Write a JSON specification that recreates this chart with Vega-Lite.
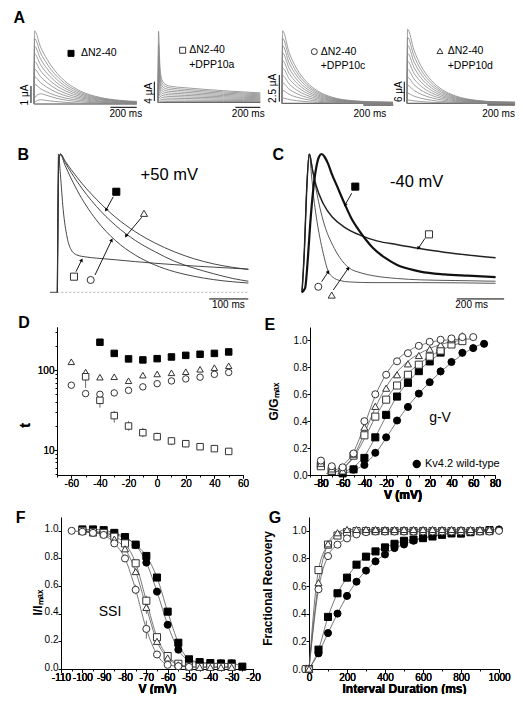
{
"$schema": "https://vega.github.io/schema/vega-lite/v6.json",
"padding": 0,
"background": "white",
"autosize": {"type": "pad"},
"config": {
  "font": "Liberation Sans",
  "view": {"stroke": null},
  "axis": {"grid": false, "domainColor": "#000", "tickColor": "#000", "labelColor": "#000", "titleColor": "#000", "labelFont": "Liberation Sans", "labelFontSize": 10, "tickSize": 3, "labelPadding": 0, "titleFont": "Liberation Sans", "titleFontSize": 12, "titleFontWeight": "bold", "labelFlush": false, "labelOverlap": false, "domainWidth": 1, "tickWidth": 1},
  "text": {"font": "Liberation Sans", "color": "#000"}
},
"datasets": {
"tr": [
{"p":1,"k":0,"x":0,"y":0},{"p":1,"k":0,"x":780,"y":0},
{"p":1,"k":1,"x":0,"y":0},{"p":1,"k":1,"x":4,"y":4.3},{"p":1,"k":1,"x":50,"y":3.35},{"p":1,"k":1,"x":100,"y":2.62},{"p":1,"k":1,"x":175,"y":1.81},{"p":1,"k":1,"x":250,"y":1.25},{"p":1,"k":1,"x":350,"y":0.77},{"p":1,"k":1,"x":500,"y":0.39},{"p":1,"k":1,"x":650,"y":0.22},{"p":1,"k":1,"x":780,"y":0.15},
{"p":1,"k":2,"x":0,"y":0},{"p":1,"k":2,"x":4,"y":3.85},{"p":1,"k":2,"x":50,"y":3.0},{"p":1,"k":2,"x":100,"y":2.35},{"p":1,"k":2,"x":175,"y":1.62},{"p":1,"k":2,"x":250,"y":1.12},{"p":1,"k":2,"x":350,"y":0.69},{"p":1,"k":2,"x":500,"y":0.35},{"p":1,"k":2,"x":650,"y":0.19},{"p":1,"k":2,"x":780,"y":0.13},
{"p":1,"k":3,"x":0,"y":0},{"p":1,"k":3,"x":4,"y":3.4},{"p":1,"k":3,"x":50,"y":2.65},{"p":1,"k":3,"x":100,"y":2.07},{"p":1,"k":3,"x":175,"y":1.43},{"p":1,"k":3,"x":250,"y":0.99},{"p":1,"k":3,"x":350,"y":0.61},{"p":1,"k":3,"x":500,"y":0.31},{"p":1,"k":3,"x":650,"y":0.17},{"p":1,"k":3,"x":780,"y":0.12},
{"p":1,"k":4,"x":0,"y":0},{"p":1,"k":4,"x":4,"y":2.95},{"p":1,"k":4,"x":50,"y":2.3},{"p":1,"k":4,"x":100,"y":1.8},{"p":1,"k":4,"x":175,"y":1.24},{"p":1,"k":4,"x":250,"y":0.86},{"p":1,"k":4,"x":350,"y":0.53},{"p":1,"k":4,"x":500,"y":0.27},{"p":1,"k":4,"x":650,"y":0.15},{"p":1,"k":4,"x":780,"y":0.1},
{"p":1,"k":5,"x":0,"y":0},{"p":1,"k":5,"x":4,"y":2.5},{"p":1,"k":5,"x":50,"y":1.95},{"p":1,"k":5,"x":100,"y":1.53},{"p":1,"k":5,"x":175,"y":1.05},{"p":1,"k":5,"x":250,"y":0.73},{"p":1,"k":5,"x":350,"y":0.45},{"p":1,"k":5,"x":500,"y":0.23},{"p":1,"k":5,"x":650,"y":0.13},{"p":1,"k":5,"x":780,"y":0.09},
{"p":1,"k":6,"x":0,"y":0},{"p":1,"k":6,"x":4,"y":2.05},{"p":1,"k":6,"x":50,"y":1.6},{"p":1,"k":6,"x":100,"y":1.25},{"p":1,"k":6,"x":175,"y":0.86},{"p":1,"k":6,"x":250,"y":0.59},{"p":1,"k":6,"x":350,"y":0.37},{"p":1,"k":6,"x":500,"y":0.18},{"p":1,"k":6,"x":650,"y":0.1},{"p":1,"k":6,"x":780,"y":0.07},
{"p":1,"k":7,"x":0,"y":0},{"p":1,"k":7,"x":4,"y":1.6},{"p":1,"k":7,"x":50,"y":1.25},{"p":1,"k":7,"x":100,"y":0.98},{"p":1,"k":7,"x":175,"y":0.67},{"p":1,"k":7,"x":250,"y":0.46},{"p":1,"k":7,"x":350,"y":0.29},{"p":1,"k":7,"x":500,"y":0.14},{"p":1,"k":7,"x":650,"y":0.08},{"p":1,"k":7,"x":780,"y":0.06},
{"p":1,"k":8,"x":0,"y":0},{"p":1,"k":8,"x":4,"y":1.15},{"p":1,"k":8,"x":50,"y":0.9},{"p":1,"k":8,"x":100,"y":0.7},{"p":1,"k":8,"x":175,"y":0.48},{"p":1,"k":8,"x":250,"y":0.33},{"p":1,"k":8,"x":350,"y":0.21},{"p":1,"k":8,"x":500,"y":0.1},{"p":1,"k":8,"x":650,"y":0.06},{"p":1,"k":8,"x":780,"y":0.04},
{"p":1,"k":9,"x":0,"y":0},{"p":1,"k":9,"x":4,"y":0.35},{"p":1,"k":9,"x":50,"y":0.6},{"p":1,"k":9,"x":100,"y":0.5},{"p":1,"k":9,"x":175,"y":0.33},{"p":1,"k":9,"x":250,"y":0.22},{"p":1,"k":9,"x":350,"y":0.13},{"p":1,"k":9,"x":500,"y":0.06},{"p":1,"k":9,"x":650,"y":0.035},{"p":1,"k":9,"x":780,"y":0.025},
{"p":1,"k":10,"x":0,"y":0},{"p":1,"k":10,"x":4,"y":0.1},{"p":1,"k":10,"x":50,"y":0.25},{"p":1,"k":10,"x":100,"y":0.2},{"p":1,"k":10,"x":175,"y":0.14},{"p":1,"k":10,"x":250,"y":0.09},{"p":1,"k":10,"x":350,"y":0.05},{"p":1,"k":10,"x":500,"y":0.03},{"p":1,"k":10,"x":650,"y":0.02},{"p":1,"k":10,"x":780,"y":0.01},
{"p":2,"k":0,"x":0,"y":0},{"p":2,"k":0,"x":780,"y":0},
{"p":2,"k":1,"x":0,"y":0},{"p":2,"k":1,"x":4,"y":14.7},{"p":2,"k":1,"x":15,"y":7.29},{"p":2,"k":1,"x":30,"y":4.67},{"p":2,"k":1,"x":60,"y":3.64},{"p":2,"k":1,"x":100,"y":3.3},{"p":2,"k":1,"x":200,"y":3.03},{"p":2,"k":1,"x":350,"y":2.69},{"p":2,"k":1,"x":500,"y":2.4},{"p":2,"k":1,"x":650,"y":2.15},{"p":2,"k":1,"x":780,"y":1.95},
{"p":2,"k":2,"x":0,"y":0},{"p":2,"k":2,"x":4,"y":12},{"p":2,"k":2,"x":15,"y":6.12},{"p":2,"k":2,"x":30,"y":4.04},{"p":2,"k":2,"x":60,"y":3.22},{"p":2,"k":2,"x":100,"y":2.95},{"p":2,"k":2,"x":200,"y":2.71},{"p":2,"k":2,"x":350,"y":2.41},{"p":2,"k":2,"x":500,"y":2.15},{"p":2,"k":2,"x":650,"y":1.93},{"p":2,"k":2,"x":780,"y":1.75},
{"p":2,"k":3,"x":0,"y":0},{"p":2,"k":3,"x":4,"y":9.5},{"p":2,"k":3,"x":15,"y":5.02},{"p":2,"k":3,"x":30,"y":3.43},{"p":2,"k":3,"x":60,"y":2.81},{"p":2,"k":3,"x":100,"y":2.6},{"p":2,"k":3,"x":200,"y":2.39},{"p":2,"k":3,"x":350,"y":2.13},{"p":2,"k":3,"x":500,"y":1.9},{"p":2,"k":3,"x":650,"y":1.71},{"p":2,"k":3,"x":780,"y":1.55},
{"p":2,"k":4,"x":0,"y":0},{"p":2,"k":4,"x":4,"y":7.5},{"p":2,"k":4,"x":15,"y":4.09},{"p":2,"k":4,"x":30,"y":2.88},{"p":2,"k":4,"x":60,"y":2.41},{"p":2,"k":4,"x":100,"y":2.25},{"p":2,"k":4,"x":200,"y":2.07},{"p":2,"k":4,"x":350,"y":1.85},{"p":2,"k":4,"x":500,"y":1.65},{"p":2,"k":4,"x":650,"y":1.49},{"p":2,"k":4,"x":780,"y":1.35},
{"p":2,"k":5,"x":0,"y":0},{"p":2,"k":5,"x":4,"y":6},{"p":2,"k":5,"x":15,"y":3.34},{"p":2,"k":5,"x":30,"y":2.39},{"p":2,"k":5,"x":60,"y":2.02},{"p":2,"k":5,"x":100,"y":1.9},{"p":2,"k":5,"x":200,"y":1.75},{"p":2,"k":5,"x":350,"y":1.56},{"p":2,"k":5,"x":500,"y":1.4},{"p":2,"k":5,"x":650,"y":1.26},{"p":2,"k":5,"x":780,"y":1.15},
{"p":2,"k":6,"x":0,"y":0},{"p":2,"k":6,"x":4,"y":4.5},{"p":2,"k":6,"x":15,"y":2.58},{"p":2,"k":6,"x":30,"y":1.9},{"p":2,"k":6,"x":60,"y":1.64},{"p":2,"k":6,"x":100,"y":1.55},{"p":2,"k":6,"x":200,"y":1.43},{"p":2,"k":6,"x":350,"y":1.28},{"p":2,"k":6,"x":500,"y":1.15},{"p":2,"k":6,"x":650,"y":1.04},{"p":2,"k":6,"x":780,"y":0.95},
{"p":2,"k":7,"x":0,"y":0},{"p":2,"k":7,"x":4,"y":3.3},{"p":2,"k":7,"x":15,"y":1.94},{"p":2,"k":7,"x":30,"y":1.45},{"p":2,"k":7,"x":60,"y":1.26},{"p":2,"k":7,"x":100,"y":1.2},{"p":2,"k":7,"x":200,"y":1.11},{"p":2,"k":7,"x":350,"y":1.0},{"p":2,"k":7,"x":500,"y":0.9},{"p":2,"k":7,"x":650,"y":0.82},{"p":2,"k":7,"x":780,"y":0.75},
{"p":2,"k":8,"x":0,"y":0},{"p":2,"k":8,"x":4,"y":2.2},{"p":2,"k":8,"x":15,"y":1.32},{"p":2,"k":8,"x":30,"y":1.01},{"p":2,"k":8,"x":60,"y":0.89},{"p":2,"k":8,"x":100,"y":0.85},{"p":2,"k":8,"x":200,"y":0.79},{"p":2,"k":8,"x":350,"y":0.72},{"p":2,"k":8,"x":500,"y":0.65},{"p":2,"k":8,"x":650,"y":0.6},{"p":2,"k":8,"x":780,"y":0.55},
{"p":2,"k":9,"x":0,"y":0},{"p":2,"k":9,"x":4,"y":1.3},{"p":2,"k":9,"x":15,"y":0.78},{"p":2,"k":9,"x":30,"y":0.6},{"p":2,"k":9,"x":60,"y":0.52},{"p":2,"k":9,"x":100,"y":0.5},{"p":2,"k":9,"x":200,"y":0.47},{"p":2,"k":9,"x":350,"y":0.43},{"p":2,"k":9,"x":500,"y":0.4},{"p":2,"k":9,"x":650,"y":0.37},{"p":2,"k":9,"x":780,"y":0.35},
{"p":2,"k":10,"x":0,"y":0},{"p":2,"k":10,"x":4,"y":0.6},{"p":2,"k":10,"x":15,"y":0.34},{"p":2,"k":10,"x":30,"y":0.25},{"p":2,"k":10,"x":60,"y":0.21},{"p":2,"k":10,"x":100,"y":0.2},{"p":2,"k":10,"x":200,"y":0.19},{"p":2,"k":10,"x":350,"y":0.18},{"p":2,"k":10,"x":500,"y":0.17},{"p":2,"k":10,"x":650,"y":0.16},{"p":2,"k":10,"x":780,"y":0.15},
{"p":3,"k":0,"x":0,"y":0},{"p":3,"k":0,"x":780,"y":0},
{"p":3,"k":1,"x":0,"y":0},{"p":3,"k":1,"x":4,"y":6.8},{"p":3,"k":1,"x":50,"y":4.76},{"p":3,"k":1,"x":100,"y":3.33},{"p":3,"k":1,"x":175,"y":1.97},{"p":3,"k":1,"x":250,"y":1.16},{"p":3,"k":1,"x":350,"y":0.58},{"p":3,"k":1,"x":500,"y":0.24},{"p":3,"k":1,"x":650,"y":0.14},{"p":3,"k":1,"x":780,"y":0.1},
{"p":3,"k":2,"x":0,"y":0},{"p":3,"k":2,"x":4,"y":6.1},{"p":3,"k":2,"x":50,"y":4.27},{"p":3,"k":2,"x":100,"y":2.99},{"p":3,"k":2,"x":175,"y":1.77},{"p":3,"k":2,"x":250,"y":1.04},{"p":3,"k":2,"x":350,"y":0.52},{"p":3,"k":2,"x":500,"y":0.21},{"p":3,"k":2,"x":650,"y":0.12},{"p":3,"k":2,"x":780,"y":0.09},
{"p":3,"k":3,"x":0,"y":0},{"p":3,"k":3,"x":4,"y":5.4},{"p":3,"k":3,"x":50,"y":3.78},{"p":3,"k":3,"x":100,"y":2.65},{"p":3,"k":3,"x":175,"y":1.57},{"p":3,"k":3,"x":250,"y":0.92},{"p":3,"k":3,"x":350,"y":0.46},{"p":3,"k":3,"x":500,"y":0.19},{"p":3,"k":3,"x":650,"y":0.11},{"p":3,"k":3,"x":780,"y":0.08},
{"p":3,"k":4,"x":0,"y":0},{"p":3,"k":4,"x":4,"y":4.7},{"p":3,"k":4,"x":50,"y":3.29},{"p":3,"k":4,"x":100,"y":2.3},{"p":3,"k":4,"x":175,"y":1.36},{"p":3,"k":4,"x":250,"y":0.8},{"p":3,"k":4,"x":350,"y":0.4},{"p":3,"k":4,"x":500,"y":0.16},{"p":3,"k":4,"x":650,"y":0.09},{"p":3,"k":4,"x":780,"y":0.07},
{"p":3,"k":5,"x":0,"y":0},{"p":3,"k":5,"x":4,"y":4.0},{"p":3,"k":5,"x":50,"y":2.8},{"p":3,"k":5,"x":100,"y":1.96},{"p":3,"k":5,"x":175,"y":1.16},{"p":3,"k":5,"x":250,"y":0.68},{"p":3,"k":5,"x":350,"y":0.34},{"p":3,"k":5,"x":500,"y":0.14},{"p":3,"k":5,"x":650,"y":0.08},{"p":3,"k":5,"x":780,"y":0.06},
{"p":3,"k":6,"x":0,"y":0},{"p":3,"k":6,"x":4,"y":3.3},{"p":3,"k":6,"x":50,"y":2.31},{"p":3,"k":6,"x":100,"y":1.62},{"p":3,"k":6,"x":175,"y":0.96},{"p":3,"k":6,"x":250,"y":0.56},{"p":3,"k":6,"x":350,"y":0.28},{"p":3,"k":6,"x":500,"y":0.12},{"p":3,"k":6,"x":650,"y":0.07},{"p":3,"k":6,"x":780,"y":0.05},
{"p":3,"k":7,"x":0,"y":0},{"p":3,"k":7,"x":4,"y":2.6},{"p":3,"k":7,"x":50,"y":1.82},{"p":3,"k":7,"x":100,"y":1.27},{"p":3,"k":7,"x":175,"y":0.75},{"p":3,"k":7,"x":250,"y":0.44},{"p":3,"k":7,"x":350,"y":0.22},{"p":3,"k":7,"x":500,"y":0.09},{"p":3,"k":7,"x":650,"y":0.05},{"p":3,"k":7,"x":780,"y":0.04},
{"p":3,"k":8,"x":0,"y":0},{"p":3,"k":8,"x":4,"y":1.9},{"p":3,"k":8,"x":50,"y":1.33},{"p":3,"k":8,"x":100,"y":0.93},{"p":3,"k":8,"x":175,"y":0.55},{"p":3,"k":8,"x":250,"y":0.32},{"p":3,"k":8,"x":350,"y":0.16},{"p":3,"k":8,"x":500,"y":0.07},{"p":3,"k":8,"x":650,"y":0.04},{"p":3,"k":8,"x":780,"y":0.03},
{"p":3,"k":9,"x":0,"y":0},{"p":3,"k":9,"x":4,"y":1.2},{"p":3,"k":9,"x":50,"y":0.84},{"p":3,"k":9,"x":100,"y":0.59},{"p":3,"k":9,"x":175,"y":0.35},{"p":3,"k":9,"x":250,"y":0.2},{"p":3,"k":9,"x":350,"y":0.1},{"p":3,"k":9,"x":500,"y":0.04},{"p":3,"k":9,"x":650,"y":0.02},{"p":3,"k":9,"x":780,"y":0.02},
{"p":3,"k":10,"x":0,"y":0},{"p":3,"k":10,"x":4,"y":0.5},{"p":3,"k":10,"x":50,"y":0.35},{"p":3,"k":10,"x":100,"y":0.25},{"p":3,"k":10,"x":175,"y":0.15},{"p":3,"k":10,"x":250,"y":0.09},{"p":3,"k":10,"x":350,"y":0.04},{"p":3,"k":10,"x":500,"y":0.02},{"p":3,"k":10,"x":650,"y":0.01},{"p":3,"k":10,"x":780,"y":0.01},
{"p":4,"k":0,"x":0,"y":0},{"p":4,"k":0,"x":780,"y":0},
{"p":4,"k":1,"x":0,"y":0},{"p":4,"k":1,"x":4,"y":22.2},{"p":4,"k":1,"x":50,"y":15.98},{"p":4,"k":1,"x":100,"y":11.32},{"p":4,"k":1,"x":175,"y":6.88},{"p":4,"k":1,"x":250,"y":4.22},{"p":4,"k":1,"x":350,"y":2.22},{"p":4,"k":1,"x":500,"y":0.89},{"p":4,"k":1,"x":650,"y":0.44},{"p":4,"k":1,"x":780,"y":0.33},
{"p":4,"k":2,"x":0,"y":0},{"p":4,"k":2,"x":4,"y":19.8},{"p":4,"k":2,"x":50,"y":14.26},{"p":4,"k":2,"x":100,"y":10.1},{"p":4,"k":2,"x":175,"y":6.14},{"p":4,"k":2,"x":250,"y":3.76},{"p":4,"k":2,"x":350,"y":1.98},{"p":4,"k":2,"x":500,"y":0.79},{"p":4,"k":2,"x":650,"y":0.4},{"p":4,"k":2,"x":780,"y":0.3},
{"p":4,"k":3,"x":0,"y":0},{"p":4,"k":3,"x":4,"y":17.4},{"p":4,"k":3,"x":50,"y":12.53},{"p":4,"k":3,"x":100,"y":8.87},{"p":4,"k":3,"x":175,"y":5.39},{"p":4,"k":3,"x":250,"y":3.31},{"p":4,"k":3,"x":350,"y":1.74},{"p":4,"k":3,"x":500,"y":0.7},{"p":4,"k":3,"x":650,"y":0.35},{"p":4,"k":3,"x":780,"y":0.26},
{"p":4,"k":4,"x":0,"y":0},{"p":4,"k":4,"x":4,"y":15},{"p":4,"k":4,"x":50,"y":10.8},{"p":4,"k":4,"x":100,"y":7.65},{"p":4,"k":4,"x":175,"y":4.65},{"p":4,"k":4,"x":250,"y":2.85},{"p":4,"k":4,"x":350,"y":1.5},{"p":4,"k":4,"x":500,"y":0.6},{"p":4,"k":4,"x":650,"y":0.3},{"p":4,"k":4,"x":780,"y":0.23},
{"p":4,"k":5,"x":0,"y":0},{"p":4,"k":5,"x":4,"y":12.6},{"p":4,"k":5,"x":50,"y":9.07},{"p":4,"k":5,"x":100,"y":6.43},{"p":4,"k":5,"x":175,"y":3.91},{"p":4,"k":5,"x":250,"y":2.39},{"p":4,"k":5,"x":350,"y":1.26},{"p":4,"k":5,"x":500,"y":0.5},{"p":4,"k":5,"x":650,"y":0.25},{"p":4,"k":5,"x":780,"y":0.19},
{"p":4,"k":6,"x":0,"y":0},{"p":4,"k":6,"x":4,"y":10.2},{"p":4,"k":6,"x":50,"y":7.34},{"p":4,"k":6,"x":100,"y":5.2},{"p":4,"k":6,"x":175,"y":3.16},{"p":4,"k":6,"x":250,"y":1.94},{"p":4,"k":6,"x":350,"y":1.02},{"p":4,"k":6,"x":500,"y":0.41},{"p":4,"k":6,"x":650,"y":0.2},{"p":4,"k":6,"x":780,"y":0.15},
{"p":4,"k":7,"x":0,"y":0},{"p":4,"k":7,"x":4,"y":7.8},{"p":4,"k":7,"x":50,"y":5.62},{"p":4,"k":7,"x":100,"y":3.98},{"p":4,"k":7,"x":175,"y":2.42},{"p":4,"k":7,"x":250,"y":1.48},{"p":4,"k":7,"x":350,"y":0.78},{"p":4,"k":7,"x":500,"y":0.31},{"p":4,"k":7,"x":650,"y":0.16},{"p":4,"k":7,"x":780,"y":0.12},
{"p":4,"k":8,"x":0,"y":0},{"p":4,"k":8,"x":4,"y":5.4},{"p":4,"k":8,"x":50,"y":3.89},{"p":4,"k":8,"x":100,"y":2.75},{"p":4,"k":8,"x":175,"y":1.67},{"p":4,"k":8,"x":250,"y":1.03},{"p":4,"k":8,"x":350,"y":0.54},{"p":4,"k":8,"x":500,"y":0.22},{"p":4,"k":8,"x":650,"y":0.11},{"p":4,"k":8,"x":780,"y":0.08},
{"p":4,"k":9,"x":0,"y":0},{"p":4,"k":9,"x":4,"y":3.0},{"p":4,"k":9,"x":50,"y":2.16},{"p":4,"k":9,"x":100,"y":1.53},{"p":4,"k":9,"x":175,"y":0.93},{"p":4,"k":9,"x":250,"y":0.57},{"p":4,"k":9,"x":350,"y":0.3},{"p":4,"k":9,"x":500,"y":0.12},{"p":4,"k":9,"x":650,"y":0.06},{"p":4,"k":9,"x":780,"y":0.05},
{"p":4,"k":10,"x":0,"y":0},{"p":4,"k":10,"x":4,"y":1.0},{"p":4,"k":10,"x":50,"y":0.72},{"p":4,"k":10,"x":100,"y":0.51},{"p":4,"k":10,"x":175,"y":0.31},{"p":4,"k":10,"x":250,"y":0.19},{"p":4,"k":10,"x":350,"y":0.1},{"p":4,"k":10,"x":500,"y":0.04},{"p":4,"k":10,"x":650,"y":0.02},{"p":4,"k":10,"x":780,"y":0.015}
],
"bc": [
{"p":"B","s":"sq","x":-18.7,"y":0},{"p":"B","s":"sq","x":0,"y":0},{"p":"B","s":"sq","x":4,"y":0.96},{"p":"B","s":"sq","x":8,"y":1.0},{"p":"B","s":"sq","x":20,"y":0.949},{"p":"B","s":"sq","x":50,"y":0.833},{"p":"B","s":"sq","x":100,"y":0.673},{"p":"B","s":"sq","x":150,"y":0.541},{"p":"B","s":"sq","x":200,"y":0.438},{"p":"B","s":"sq","x":250,"y":0.357},{"p":"B","s":"sq","x":300,"y":0.293},{"p":"B","s":"sq","x":350,"y":0.243},{"p":"B","s":"sq","x":400,"y":0.206},{"p":"B","s":"sq","x":450,"y":0.18},{"p":"B","s":"sq","x":490,"y":0.165},
{"p":"B","s":"tri","x":0,"y":0},{"p":"B","s":"tri","x":4,"y":0.96},{"p":"B","s":"tri","x":8,"y":1.0},{"p":"B","s":"tri","x":20,"y":0.939},{"p":"B","s":"tri","x":50,"y":0.804},{"p":"B","s":"tri","x":100,"y":0.622},{"p":"B","s":"tri","x":150,"y":0.482},{"p":"B","s":"tri","x":200,"y":0.375},{"p":"B","s":"tri","x":250,"y":0.294},{"p":"B","s":"tri","x":300,"y":0.225},{"p":"B","s":"tri","x":350,"y":0.175},{"p":"B","s":"tri","x":400,"y":0.135},{"p":"B","s":"tri","x":450,"y":0.1},{"p":"B","s":"tri","x":490,"y":0.08},
{"p":"B","s":"oc","x":0,"y":0},{"p":"B","s":"oc","x":4,"y":0.96},{"p":"B","s":"oc","x":8,"y":0.995},{"p":"B","s":"oc","x":20,"y":0.917},{"p":"B","s":"oc","x":50,"y":0.742},{"p":"B","s":"oc","x":100,"y":0.523},{"p":"B","s":"oc","x":150,"y":0.372},{"p":"B","s":"oc","x":200,"y":0.269},{"p":"B","s":"oc","x":250,"y":0.198},{"p":"B","s":"oc","x":300,"y":0.149},{"p":"B","s":"oc","x":350,"y":0.116},{"p":"B","s":"oc","x":400,"y":0.092},{"p":"B","s":"oc","x":450,"y":0.076},{"p":"B","s":"oc","x":490,"y":0.067},
{"p":"B","s":"osq","x":0,"y":0},{"p":"B","s":"osq","x":3,"y":1.0},{"p":"B","s":"osq","x":8,"y":0.85},{"p":"B","s":"osq","x":15,"y":0.6},{"p":"B","s":"osq","x":25,"y":0.4},{"p":"B","s":"osq","x":35,"y":0.31},{"p":"B","s":"osq","x":50,"y":0.27},{"p":"B","s":"osq","x":75,"y":0.255},{"p":"B","s":"osq","x":100,"y":0.247},{"p":"B","s":"osq","x":150,"y":0.235},{"p":"B","s":"osq","x":200,"y":0.222},{"p":"B","s":"osq","x":250,"y":0.21},{"p":"B","s":"osq","x":300,"y":0.2},{"p":"B","s":"osq","x":350,"y":0.19},{"p":"B","s":"osq","x":400,"y":0.182},{"p":"B","s":"osq","x":450,"y":0.174},{"p":"B","s":"osq","x":490,"y":0.168},
{"p":"B","s":"base","x":0,"y":0},{"p":"B","s":"base","x":490,"y":0},
{"p":"C","s":"sq","x":0,"y":0},{"p":"C","s":"sq","x":13,"y":0.03},{"p":"C","s":"sq","x":25,"y":0.25},{"p":"C","s":"sq","x":35,"y":0.5},{"p":"C","s":"sq","x":48,"y":0.75},{"p":"C","s":"sq","x":60,"y":0.9},{"p":"C","s":"sq","x":72,"y":0.98},{"p":"C","s":"sq","x":83,"y":1.0},{"p":"C","s":"sq","x":95,"y":0.98},{"p":"C","s":"sq","x":110,"y":0.93},{"p":"C","s":"sq","x":125,"y":0.86},{"p":"C","s":"sq","x":150,"y":0.76},{"p":"C","s":"sq","x":180,"y":0.64},{"p":"C","s":"sq","x":210,"y":0.53},{"p":"C","s":"sq","x":240,"y":0.45},{"p":"C","s":"sq","x":270,"y":0.38},{"p":"C","s":"sq","x":300,"y":0.32},{"p":"C","s":"sq","x":350,"y":0.25},{"p":"C","s":"sq","x":400,"y":0.2},{"p":"C","s":"sq","x":450,"y":0.17},{"p":"C","s":"sq","x":500,"y":0.15},{"p":"C","s":"sq","x":600,"y":0.13},{"p":"C","s":"sq","x":700,"y":0.12},{"p":"C","s":"sq","x":818,"y":0.11},
{"p":"C","s":"osq","x":0,"y":0},{"p":"C","s":"osq","x":10,"y":0.3},{"p":"C","s":"osq","x":20,"y":0.75},{"p":"C","s":"osq","x":31,"y":1.0},{"p":"C","s":"osq","x":45,"y":0.88},{"p":"C","s":"osq","x":60,"y":0.77},{"p":"C","s":"osq","x":90,"y":0.64},{"p":"C","s":"osq","x":130,"y":0.54},{"p":"C","s":"osq","x":180,"y":0.47},{"p":"C","s":"osq","x":250,"y":0.41},{"p":"C","s":"osq","x":320,"y":0.37},{"p":"C","s":"osq","x":400,"y":0.345},{"p":"C","s":"osq","x":491,"y":0.318},{"p":"C","s":"osq","x":600,"y":0.29},{"p":"C","s":"osq","x":700,"y":0.27},{"p":"C","s":"osq","x":818,"y":0.25},
{"p":"C","s":"oc","x":0,"y":0},{"p":"C","s":"oc","x":10,"y":0.3},{"p":"C","s":"oc","x":20,"y":0.75},{"p":"C","s":"oc","x":31,"y":1.0},{"p":"C","s":"oc","x":40,"y":0.85},{"p":"C","s":"oc","x":50,"y":0.68},{"p":"C","s":"oc","x":60,"y":0.55},{"p":"C","s":"oc","x":75,"y":0.4},{"p":"C","s":"oc","x":90,"y":0.28},{"p":"C","s":"oc","x":111,"y":0.15},{"p":"C","s":"oc","x":130,"y":0.11},{"p":"C","s":"oc","x":160,"y":0.085},{"p":"C","s":"oc","x":200,"y":0.075},{"p":"C","s":"oc","x":300,"y":0.07},{"p":"C","s":"oc","x":500,"y":0.07},{"p":"C","s":"oc","x":818,"y":0.065},
{"p":"C","s":"tri","x":0,"y":0},{"p":"C","s":"tri","x":10,"y":0.3},{"p":"C","s":"tri","x":20,"y":0.75},{"p":"C","s":"tri","x":31,"y":1.0},{"p":"C","s":"tri","x":45,"y":0.88},{"p":"C","s":"tri","x":60,"y":0.74},{"p":"C","s":"tri","x":80,"y":0.58},{"p":"C","s":"tri","x":100,"y":0.46},{"p":"C","s":"tri","x":130,"y":0.34},{"p":"C","s":"tri","x":160,"y":0.25},{"p":"C","s":"tri","x":196,"y":0.18},{"p":"C","s":"tri","x":250,"y":0.14},{"p":"C","s":"tri","x":300,"y":0.12},{"p":"C","s":"tri","x":400,"y":0.1},{"p":"C","s":"tri","x":500,"y":0.09},{"p":"C","s":"tri","x":650,"y":0.085},{"p":"C","s":"tri","x":818,"y":0.08}
],
"sb": [
{"p":"A1","x":580,"y":-0.194,"x2":780,"y2":-0.194},{"p":"A1","x":-23,"y":0.06,"x2":-23,"y2":1.06},
{"p":"A2","x":590,"y":-1.04,"x2":780,"y2":-1.04},{"p":"A2","x":-28,"y":0.27,"x2":-28,"y2":4.27},
{"p":"A3","x":571,"y":-0.16,"x2":782,"y2":-0.16},{"p":"A3","x":-19,"y":0.15,"x2":-19,"y2":2.65},
{"p":"A4","x":580,"y":-0.5,"x2":780,"y2":-0.5},{"p":"A4","x":-19.5,"y":0.48,"x2":-19.5,"y2":6.48},
{"p":"B","x":389.7,"y":-0.048,"x2":489.7,"y2":-0.048},
{"p":"C","x":654,"y":-0.048,"x2":854,"y2":-0.048}
],
"sy": [
{"p":"A1","s":"sq","x":281,"y":2.98},{"p":"A2","s":"osq","x":188,"y":10.77},{"p":"A3","s":"oc","x":227,"y":4.84},{"p":"A4","s":"tri","x":238,"y":15.7},
{"p":"B","s":"sq","x":151.3,"y":0.727},{"p":"B","s":"tri","x":222.3,"y":0.571},{"p":"B","s":"osq","x":42.8,"y":0.113},{"p":"B","s":"oc","x":85.6,"y":0.089},
{"p":"C","s":"sq","x":225.2,"y":0.764},{"p":"C","s":"osq","x":536.5,"y":0.419},{"p":"C","s":"oc","x":68.9,"y":0.04},{"p":"C","s":"tri","x":125.5,"y":-0.02},
{"p":"E","s":"c","x":8.1,"y":0.082}
],
"ar": [
{"p":"B","x":143.6,"y":0.691,"x2":124.9,"y2":0.595},{"p":"B","x":216.4,"y":0.542,"x2":176.2,"y2":0.407},{"p":"B","x":47.9,"y":0.149,"x2":62.6,"y2":0.234},{"p":"B","x":96.7,"y":0.125,"x2":139.5,"y2":0.378},
{"p":"C","x":210,"y":0.716,"x2":181.7,"y2":0.631},{"p":"C","x":519.6,"y":0.39,"x2":491.3,"y2":0.318},{"p":"C","x":83.2,"y":0.077,"x2":111.1,"y2":0.149},{"p":"C","x":132.2,"y":0.017,"x2":195.6,"y2":0.174}
],
"ah": [
{"p":"B","d":"dl","x":124.9,"y":0.595},{"p":"B","d":"dl","x":176.2,"y":0.407},{"p":"B","d":"ur","x":62.6,"y":0.234},{"p":"B","d":"ur","x":139.5,"y":0.378},
{"p":"C","d":"dl","x":181.7,"y":0.631},{"p":"C","d":"dl","x":491.3,"y":0.318},{"p":"C","d":"ur","x":111.1,"y":0.149},{"p":"C","d":"ur","x":195.6,"y":0.174}
],
"tx": [
{"p":"A1","x":-112,"y":5.04,"s":"A","r":"P"},{"p":"A1","x":357,"y":2.98,"s":"ΔN2-40","r":"L"},{"p":"A1","x":697,"y":-0.606,"s":"200 ms","r":"H"},{"p":"A1","x":-68,"y":0.53,"s":"1 μA","r":"V"},
{"p":"A2","x":238,"y":10.77,"s":"ΔN2-40","r":"L"},{"p":"A2","x":238,"y":7.72,"s":"+DPP10a","r":"L"},{"p":"A2","x":688,"y":-2.48,"s":"200 ms","r":"H"},{"p":"A2","x":-66,"y":1.86,"s":"4 μA","r":"V"},
{"p":"A3","x":272,"y":4.84,"s":"ΔN2-40","r":"L"},{"p":"A3","x":272,"y":3.52,"s":"+DPP10c","r":"L"},{"p":"A3","x":618,"y":-1.03,"s":"200 ms","r":"H"},{"p":"A3","x":-61,"y":1.4,"s":"2.5 μA","r":"V"},
{"p":"A4","x":294,"y":15.7,"s":"ΔN2-40","r":"L"},{"p":"A4","x":294,"y":11.28,"s":"+DPP10d","r":"L"},{"p":"A4","x":661,"y":-3.3,"s":"200 ms","r":"H"},{"p":"A4","x":-58,"y":3.5,"s":"6 μA","r":"V"},
{"p":"B","x":-87.2,"y":0.993,"s":"B","r":"P"},{"p":"B","x":287,"y":0.848,"s":"+50 mV","r":"T"},{"p":"B","x":438.5,"y":-0.092,"s":"100 ms","r":"H"},
{"p":"C","x":-100,"y":0.993,"s":"C","r":"P"},{"p":"C","x":484.6,"y":0.8,"s":"-40 mV","r":"T"},{"p":"C","x":717,"y":-0.092,"s":"200 ms","r":"H"},
{"p":"D","x":-93.1,"y":389,"s":"D","r":"P"},
{"p":"E","x":-126.8,"y":1.115,"s":"E","r":"P"},{"p":"E","x":29.5,"y":0.42,"s":"g-V","r":"M"},{"p":"E","x":15.7,"y":0.082,"s":"Kv4.2 wild-type","r":"K"},
{"p":"F","x":-128.9,"y":1.09,"s":"F","r":"P"},{"p":"F","x":-87,"y":0.415,"s":"SSI","r":"M"},
{"p":"G","x":-179,"y":1.09,"s":"G","r":"P"}
],
"fit": [
{"p":"E","s":"oc","x":-75,"y":0.01},{"p":"E","s":"oc","x":-70,"y":0.025},{"p":"E","s":"oc","x":-60,"y":0.07},{"p":"E","s":"oc","x":-50,"y":0.17},{"p":"E","s":"oc","x":-40,"y":0.37},{"p":"E","s":"oc","x":-30,"y":0.59},{"p":"E","s":"oc","x":-20,"y":0.75},{"p":"E","s":"oc","x":-10,"y":0.855},{"p":"E","s":"oc","x":0,"y":0.92},{"p":"E","s":"oc","x":10,"y":0.96},{"p":"E","s":"oc","x":20,"y":0.985},{"p":"E","s":"oc","x":30,"y":1.0},{"p":"E","s":"oc","x":40,"y":1.005},{"p":"E","s":"oc","x":50,"y":1.01},{"p":"E","s":"oc","x":60,"y":1.01},
{"p":"E","s":"tri","x":-72,"y":0.01},{"p":"E","s":"tri","x":-60,"y":0.05},{"p":"E","s":"tri","x":-50,"y":0.14},{"p":"E","s":"tri","x":-40,"y":0.31},{"p":"E","s":"tri","x":-30,"y":0.5},{"p":"E","s":"tri","x":-20,"y":0.655},{"p":"E","s":"tri","x":-10,"y":0.765},{"p":"E","s":"tri","x":0,"y":0.845},{"p":"E","s":"tri","x":10,"y":0.9},{"p":"E","s":"tri","x":20,"y":0.94},{"p":"E","s":"tri","x":30,"y":0.97},{"p":"E","s":"tri","x":40,"y":0.99},{"p":"E","s":"tri","x":50,"y":1.0},
{"p":"E","s":"osq","x":-70,"y":0.015},{"p":"E","s":"osq","x":-60,"y":0.05},{"p":"E","s":"osq","x":-50,"y":0.13},{"p":"E","s":"osq","x":-40,"y":0.27},{"p":"E","s":"osq","x":-30,"y":0.43},{"p":"E","s":"osq","x":-20,"y":0.565},{"p":"E","s":"osq","x":-10,"y":0.67},{"p":"E","s":"osq","x":0,"y":0.755},{"p":"E","s":"osq","x":10,"y":0.825},{"p":"E","s":"osq","x":20,"y":0.88},{"p":"E","s":"osq","x":30,"y":0.925},{"p":"E","s":"osq","x":40,"y":0.96},{"p":"E","s":"osq","x":50,"y":0.985},
{"p":"E","s":"sq","x":-65,"y":0.005},{"p":"E","s":"sq","x":-60,"y":0.02},{"p":"E","s":"sq","x":-50,"y":0.06},{"p":"E","s":"sq","x":-40,"y":0.14},{"p":"E","s":"sq","x":-30,"y":0.28},{"p":"E","s":"sq","x":-20,"y":0.44},{"p":"E","s":"sq","x":-10,"y":0.585},{"p":"E","s":"sq","x":0,"y":0.69},{"p":"E","s":"sq","x":10,"y":0.775},{"p":"E","s":"sq","x":20,"y":0.845},{"p":"E","s":"sq","x":30,"y":0.905},
{"p":"E","s":"c","x":-60,"y":0.01},{"p":"E","s":"c","x":-50,"y":0.035},{"p":"E","s":"c","x":-40,"y":0.08},{"p":"E","s":"c","x":-30,"y":0.16},{"p":"E","s":"c","x":-20,"y":0.275},{"p":"E","s":"c","x":-10,"y":0.4},{"p":"E","s":"c","x":0,"y":0.51},{"p":"E","s":"c","x":10,"y":0.605},{"p":"E","s":"c","x":20,"y":0.69},{"p":"E","s":"c","x":30,"y":0.765},{"p":"E","s":"c","x":40,"y":0.835},{"p":"E","s":"c","x":50,"y":0.895},{"p":"E","s":"c","x":60,"y":0.945},{"p":"E","s":"c","x":70,"y":0.98}
],
"eb": [
{"p":"D","x":-40,"y":210,"y2":240},
{"p":"D","x":-60,"y":118,"y2":136},{"p":"D","x":-50,"y":88,"y2":101},{"p":"D","x":-20,"y":70,"y2":78},{"p":"D","x":-10,"y":83,"y2":91},{"p":"D","x":0,"y":86,"y2":94},{"p":"D","x":10,"y":88,"y2":97},{"p":"D","x":20,"y":92,"y2":100},{"p":"D","x":30,"y":98,"y2":107},{"p":"D","x":40,"y":104,"y2":113},{"p":"D","x":50,"y":109,"y2":118},
{"p":"D","x":-40,"y":47,"y2":53},{"p":"D","x":-30,"y":49,"y2":55},{"p":"D","x":-20,"y":53,"y2":59},{"p":"D","x":-10,"y":59,"y2":65},{"p":"D","x":0,"y":65,"y2":71},{"p":"D","x":10,"y":70,"y2":77},{"p":"D","x":20,"y":75,"y2":81},{"p":"D","x":30,"y":79,"y2":85},{"p":"D","x":40,"y":85,"y2":93},{"p":"D","x":50,"y":90,"y2":98},
{"p":"D","x":-50,"y":60,"y2":95},{"p":"D","x":-40,"y":34,"y2":46},{"p":"D","x":-30,"y":22,"y2":31},{"p":"D","x":-20,"y":17.5,"y2":23},{"p":"D","x":-10,"y":14.5,"y2":19},{"p":"D","x":0,"y":13,"y2":16.5},{"p":"D","x":10,"y":11.5,"y2":14.5},{"p":"D","x":20,"y":10.8,"y2":13.2},{"p":"D","x":30,"y":10,"y2":12},{"p":"D","x":40,"y":9.5,"y2":11.2},{"p":"D","x":50,"y":9,"y2":10.2},
{"p":"E","x":-30,"y":0.14,"y2":0.19},{"p":"E","x":30,"y":0.74,"y2":0.8},{"p":"E","x":40,"y":0.815,"y2":0.865},{"p":"E","x":50,"y":0.88,"y2":0.935},{"p":"E","x":60,"y":0.92,"y2":0.965},{"p":"E","x":-80,"y":0.05,"y2":0.12},
{"p":"F","x":-75,"y":0.74,"y2":0.79},{"p":"F","x":-70,"y":0.46,"y2":0.53},{"p":"F","x":-70,"y":0.4,"y2":0.49},{"p":"F","x":-75,"y":0.54,"y2":0.61},{"p":"F","x":-70,"y":0.22,"y2":0.35},{"p":"F","x":-65,"y":0.08,"y2":0.13},
{"p":"G","x":100,"y":0.36,"y2":0.395},{"p":"G","x":150,"y":0.52,"y2":0.575},{"p":"G","x":200,"y":0.635,"y2":0.69},{"p":"G","x":250,"y":0.73,"y2":0.78},{"p":"G","x":300,"y":0.79,"y2":0.84},{"p":"G","x":350,"y":0.83,"y2":0.875},{"p":"G","x":400,"y":0.86,"y2":0.9},{"p":"G","x":450,"y":0.885,"y2":0.93},{"p":"G","x":500,"y":0.91,"y2":0.945}
],
"pts": [
{"p":"D","s":"sq","x":-40,"y":225},{"p":"D","s":"sq","x":-30,"y":163},{"p":"D","s":"sq","x":-20,"y":139},{"p":"D","s":"sq","x":-10,"y":135},{"p":"D","s":"sq","x":0,"y":140},{"p":"D","s":"sq","x":10,"y":147},{"p":"D","s":"sq","x":20,"y":154},{"p":"D","s":"sq","x":30,"y":159},{"p":"D","s":"sq","x":40,"y":163},{"p":"D","s":"sq","x":50,"y":170},
{"p":"D","s":"tri","x":-60,"y":128},{"p":"D","s":"tri","x":-50,"y":95},{"p":"D","s":"tri","x":-40,"y":82},{"p":"D","s":"tri","x":-30,"y":83},{"p":"D","s":"tri","x":-20,"y":74},{"p":"D","s":"tri","x":-10,"y":87},{"p":"D","s":"tri","x":0,"y":90},{"p":"D","s":"tri","x":10,"y":93},{"p":"D","s":"tri","x":20,"y":96},{"p":"D","s":"tri","x":30,"y":103},{"p":"D","s":"tri","x":40,"y":108},{"p":"D","s":"tri","x":50,"y":114},
{"p":"D","s":"oc","x":-60,"y":65},{"p":"D","s":"oc","x":-50,"y":51},{"p":"D","s":"oc","x":-40,"y":50},{"p":"D","s":"oc","x":-30,"y":52},{"p":"D","s":"oc","x":-20,"y":56},{"p":"D","s":"oc","x":-10,"y":62},{"p":"D","s":"oc","x":0,"y":68},{"p":"D","s":"oc","x":10,"y":73.5},{"p":"D","s":"oc","x":20,"y":78},{"p":"D","s":"oc","x":30,"y":82},{"p":"D","s":"oc","x":40,"y":89},{"p":"D","s":"oc","x":50,"y":94},
{"p":"D","s":"osq","x":-50,"y":83},{"p":"D","s":"osq","x":-40,"y":42},{"p":"D","s":"osq","x":-30,"y":27},{"p":"D","s":"osq","x":-20,"y":20},{"p":"D","s":"osq","x":-10,"y":16.5},{"p":"D","s":"osq","x":0,"y":14.7},{"p":"D","s":"osq","x":10,"y":13},{"p":"D","s":"osq","x":20,"y":12},{"p":"D","s":"osq","x":30,"y":11},{"p":"D","s":"osq","x":40,"y":10.4},{"p":"D","s":"osq","x":50,"y":9.6},
{"p":"E","s":"sq","x":-80,"y":0.075},{"p":"E","s":"sq","x":-70,"y":0.025},{"p":"E","s":"sq","x":-60,"y":0.012},{"p":"E","s":"sq","x":-50,"y":0.042},{"p":"E","s":"sq","x":-40,"y":0.127},{"p":"E","s":"sq","x":-30,"y":0.28},{"p":"E","s":"sq","x":-20,"y":0.447},{"p":"E","s":"sq","x":-10,"y":0.583},{"p":"E","s":"sq","x":0,"y":0.685},{"p":"E","s":"sq","x":10,"y":0.772},{"p":"E","s":"sq","x":20,"y":0.844},{"p":"E","s":"sq","x":30,"y":0.91},
{"p":"E","s":"c","x":-50,"y":0.04},{"p":"E","s":"c","x":-40,"y":0.075},{"p":"E","s":"c","x":-30,"y":0.165},{"p":"E","s":"c","x":-20,"y":0.28},{"p":"E","s":"c","x":-10,"y":0.405},{"p":"E","s":"c","x":0,"y":0.506},{"p":"E","s":"c","x":10,"y":0.605},{"p":"E","s":"c","x":20,"y":0.69},{"p":"E","s":"c","x":30,"y":0.77},{"p":"E","s":"c","x":40,"y":0.84},{"p":"E","s":"c","x":50,"y":0.908},{"p":"E","s":"c","x":60,"y":0.943},{"p":"E","s":"c","x":70,"y":0.975},
{"p":"E","s":"osq","x":-80,"y":0.065},{"p":"E","s":"osq","x":-70,"y":0.032},{"p":"E","s":"osq","x":-60,"y":0.037},{"p":"E","s":"osq","x":-50,"y":0.144},{"p":"E","s":"osq","x":-40,"y":0.295},{"p":"E","s":"osq","x":-30,"y":0.434},{"p":"E","s":"osq","x":-20,"y":0.56},{"p":"E","s":"osq","x":-10,"y":0.665},{"p":"E","s":"osq","x":0,"y":0.745},{"p":"E","s":"osq","x":10,"y":0.82},{"p":"E","s":"osq","x":20,"y":0.88},{"p":"E","s":"osq","x":30,"y":0.925},{"p":"E","s":"osq","x":40,"y":0.97},{"p":"E","s":"osq","x":50,"y":0.995},
{"p":"E","s":"tri","x":-80,"y":0.087},{"p":"E","s":"tri","x":-70,"y":0.045},{"p":"E","s":"tri","x":-60,"y":0.03},{"p":"E","s":"tri","x":-50,"y":0.155},{"p":"E","s":"tri","x":-40,"y":0.355},{"p":"E","s":"tri","x":-30,"y":0.51},{"p":"E","s":"tri","x":-20,"y":0.645},{"p":"E","s":"tri","x":-10,"y":0.745},{"p":"E","s":"tri","x":0,"y":0.826},{"p":"E","s":"tri","x":10,"y":0.888},{"p":"E","s":"tri","x":20,"y":0.935},{"p":"E","s":"tri","x":30,"y":0.968},{"p":"E","s":"tri","x":40,"y":1.005},{"p":"E","s":"tri","x":50,"y":1.035},
{"p":"E","s":"oc","x":-80,"y":0.107},{"p":"E","s":"oc","x":-70,"y":0.065},{"p":"E","s":"oc","x":-60,"y":0.057},{"p":"E","s":"oc","x":-50,"y":0.16},{"p":"E","s":"oc","x":-40,"y":0.4},{"p":"E","s":"oc","x":-30,"y":0.6},{"p":"E","s":"oc","x":-20,"y":0.745},{"p":"E","s":"oc","x":-10,"y":0.845},{"p":"E","s":"oc","x":0,"y":0.905},{"p":"E","s":"oc","x":10,"y":0.96},{"p":"E","s":"oc","x":20,"y":0.99},{"p":"E","s":"oc","x":30,"y":1.005},{"p":"E","s":"oc","x":40,"y":1.015},{"p":"E","s":"oc","x":50,"y":1.025},{"p":"E","s":"oc","x":60,"y":1.025},
{"p":"F","s":"sq","x":-100,"y":1.01},{"p":"F","s":"sq","x":-95,"y":1.01},{"p":"F","s":"sq","x":-90,"y":1.005},{"p":"F","s":"sq","x":-85,"y":0.985},{"p":"F","s":"sq","x":-80,"y":0.955},{"p":"F","s":"sq","x":-75,"y":0.9},{"p":"F","s":"sq","x":-70,"y":0.818},{"p":"F","s":"sq","x":-65,"y":0.662},{"p":"F","s":"sq","x":-60,"y":0.415},{"p":"F","s":"sq","x":-55,"y":0.19},{"p":"F","s":"sq","x":-50,"y":0.07},{"p":"F","s":"sq","x":-45,"y":0.05},{"p":"F","s":"sq","x":-40,"y":0.043},{"p":"F","s":"sq","x":-35,"y":0.04},{"p":"F","s":"sq","x":-30,"y":0.04},{"p":"F","s":"sq","x":-25,"y":0.017},
{"p":"F","s":"c","x":-100,"y":1.0},{"p":"F","s":"c","x":-95,"y":0.995},{"p":"F","s":"c","x":-90,"y":0.99},{"p":"F","s":"c","x":-85,"y":0.974},{"p":"F","s":"c","x":-80,"y":0.947},{"p":"F","s":"c","x":-75,"y":0.897},{"p":"F","s":"c","x":-70,"y":0.77},{"p":"F","s":"c","x":-65,"y":0.56},{"p":"F","s":"c","x":-60,"y":0.32},{"p":"F","s":"c","x":-55,"y":0.14},{"p":"F","s":"c","x":-50,"y":0.062},{"p":"F","s":"c","x":-45,"y":0.045},{"p":"F","s":"c","x":-40,"y":0.04},{"p":"F","s":"c","x":-35,"y":0.04},{"p":"F","s":"c","x":-30,"y":0.04},
{"p":"F","s":"osq","x":-100,"y":1.0},{"p":"F","s":"osq","x":-95,"y":0.99},{"p":"F","s":"osq","x":-90,"y":0.985},{"p":"F","s":"osq","x":-85,"y":0.957},{"p":"F","s":"osq","x":-80,"y":0.909},{"p":"F","s":"osq","x":-75,"y":0.765},{"p":"F","s":"osq","x":-70,"y":0.494},{"p":"F","s":"osq","x":-65,"y":0.23},{"p":"F","s":"osq","x":-60,"y":0.094},{"p":"F","s":"osq","x":-55,"y":0.038},{"p":"F","s":"osq","x":-50,"y":0.019},{"p":"F","s":"osq","x":-45,"y":0.015},{"p":"F","s":"osq","x":-40,"y":0.015},{"p":"F","s":"osq","x":-35,"y":0.015},{"p":"F","s":"osq","x":-30,"y":0.015},
{"p":"F","s":"tri","x":-100,"y":0.995},{"p":"F","s":"tri","x":-95,"y":0.985},{"p":"F","s":"tri","x":-90,"y":0.976},{"p":"F","s":"tri","x":-85,"y":0.94},{"p":"F","s":"tri","x":-80,"y":0.87},{"p":"F","s":"tri","x":-75,"y":0.705},{"p":"F","s":"tri","x":-70,"y":0.446},{"p":"F","s":"tri","x":-65,"y":0.2},{"p":"F","s":"tri","x":-60,"y":0.08},{"p":"F","s":"tri","x":-55,"y":0.03},{"p":"F","s":"tri","x":-50,"y":0.015},{"p":"F","s":"tri","x":-45,"y":0.012},{"p":"F","s":"tri","x":-40,"y":0.012},{"p":"F","s":"tri","x":-35,"y":0.012},{"p":"F","s":"tri","x":-30,"y":0.012},
{"p":"F","s":"oc","x":-105,"y":1.0},{"p":"F","s":"oc","x":-100,"y":0.993},{"p":"F","s":"oc","x":-95,"y":0.985},{"p":"F","s":"oc","x":-90,"y":0.97},{"p":"F","s":"oc","x":-85,"y":0.909},{"p":"F","s":"oc","x":-80,"y":0.8},{"p":"F","s":"oc","x":-75,"y":0.573},{"p":"F","s":"oc","x":-70,"y":0.29},{"p":"F","s":"oc","x":-65,"y":0.105},{"p":"F","s":"oc","x":-60,"y":0.03},{"p":"F","s":"oc","x":-55,"y":0.02},{"p":"F","s":"oc","x":-50,"y":0.015},
{"p":"G","s":"sq","x":0,"y":0},{"p":"G","s":"sq","x":50,"y":0.14},{"p":"G","s":"sq","x":100,"y":0.377},{"p":"G","s":"sq","x":150,"y":0.548},{"p":"G","s":"sq","x":200,"y":0.661},{"p":"G","s":"sq","x":250,"y":0.755},{"p":"G","s":"sq","x":300,"y":0.813},{"p":"G","s":"sq","x":350,"y":0.851},{"p":"G","s":"sq","x":400,"y":0.88},{"p":"G","s":"sq","x":450,"y":0.906},{"p":"G","s":"sq","x":500,"y":0.928},{"p":"G","s":"sq","x":550,"y":0.937},{"p":"G","s":"sq","x":600,"y":0.947},{"p":"G","s":"sq","x":650,"y":0.959},{"p":"G","s":"sq","x":700,"y":0.971},{"p":"G","s":"sq","x":750,"y":0.981},{"p":"G","s":"sq","x":800,"y":0.98},{"p":"G","s":"sq","x":850,"y":0.99},{"p":"G","s":"sq","x":900,"y":0.998},{"p":"G","s":"sq","x":950,"y":1.005},
{"p":"G","s":"c","x":0,"y":0},{"p":"G","s":"c","x":50,"y":0.113},{"p":"G","s":"c","x":100,"y":0.26},{"p":"G","s":"c","x":150,"y":0.401},{"p":"G","s":"c","x":200,"y":0.529},{"p":"G","s":"c","x":250,"y":0.632},{"p":"G","s":"c","x":300,"y":0.712},{"p":"G","s":"c","x":350,"y":0.779},{"p":"G","s":"c","x":400,"y":0.829},{"p":"G","s":"c","x":450,"y":0.875},{"p":"G","s":"c","x":500,"y":0.901},{"p":"G","s":"c","x":550,"y":0.928},{"p":"G","s":"c","x":600,"y":0.947},{"p":"G","s":"c","x":650,"y":0.962},{"p":"G","s":"c","x":700,"y":0.976},{"p":"G","s":"c","x":750,"y":0.985},{"p":"G","s":"c","x":800,"y":0.99},{"p":"G","s":"c","x":850,"y":0.995},{"p":"G","s":"c","x":900,"y":1.0},{"p":"G","s":"c","x":950,"y":1.005},{"p":"G","s":"c","x":1000,"y":1.01},
{"p":"G","s":"osq","x":0,"y":0},{"p":"G","s":"osq","x":50,"y":0.716},{"p":"G","s":"osq","x":100,"y":0.9},{"p":"G","s":"osq","x":150,"y":0.966},{"p":"G","s":"osq","x":200,"y":0.99},{"p":"G","s":"osq","x":250,"y":0.998},{"p":"G","s":"osq","x":300,"y":0.998},{"p":"G","s":"osq","x":350,"y":0.998},{"p":"G","s":"osq","x":400,"y":0.998},{"p":"G","s":"osq","x":450,"y":0.998},{"p":"G","s":"osq","x":500,"y":0.998},{"p":"G","s":"osq","x":550,"y":0.998},{"p":"G","s":"osq","x":600,"y":0.998},{"p":"G","s":"osq","x":650,"y":0.998},{"p":"G","s":"osq","x":700,"y":0.998},{"p":"G","s":"osq","x":750,"y":0.998},{"p":"G","s":"osq","x":800,"y":0.998},{"p":"G","s":"osq","x":850,"y":0.998},{"p":"G","s":"osq","x":900,"y":0.998},{"p":"G","s":"osq","x":950,"y":0.998},
{"p":"G","s":"oc","x":0,"y":0},{"p":"G","s":"oc","x":50,"y":0.577},{"p":"G","s":"oc","x":100,"y":0.817},{"p":"G","s":"oc","x":150,"y":0.9},{"p":"G","s":"oc","x":200,"y":0.945},{"p":"G","s":"oc","x":250,"y":0.974},{"p":"G","s":"oc","x":300,"y":0.99},{"p":"G","s":"oc","x":350,"y":0.995},{"p":"G","s":"oc","x":400,"y":0.995},{"p":"G","s":"oc","x":450,"y":0.995},{"p":"G","s":"oc","x":500,"y":0.995},{"p":"G","s":"oc","x":550,"y":0.995},{"p":"G","s":"oc","x":600,"y":0.995},{"p":"G","s":"oc","x":650,"y":0.995},{"p":"G","s":"oc","x":700,"y":0.995},{"p":"G","s":"oc","x":750,"y":0.995},{"p":"G","s":"oc","x":800,"y":0.995},{"p":"G","s":"oc","x":850,"y":0.995},{"p":"G","s":"oc","x":900,"y":0.995},{"p":"G","s":"oc","x":950,"y":0.995},{"p":"G","s":"oc","x":1000,"y":1.0},
{"p":"G","s":"tri","x":0,"y":0},{"p":"G","s":"tri","x":50,"y":0.625},{"p":"G","s":"tri","x":100,"y":0.906},{"p":"G","s":"tri","x":150,"y":0.986},{"p":"G","s":"tri","x":200,"y":1.01},{"p":"G","s":"tri","x":250,"y":1.01},{"p":"G","s":"tri","x":300,"y":1.01},{"p":"G","s":"tri","x":350,"y":1.01},{"p":"G","s":"tri","x":400,"y":1.01},{"p":"G","s":"tri","x":450,"y":1.01},{"p":"G","s":"tri","x":500,"y":1.01},{"p":"G","s":"tri","x":550,"y":1.01},{"p":"G","s":"tri","x":600,"y":1.01},{"p":"G","s":"tri","x":650,"y":1.01},{"p":"G","s":"tri","x":700,"y":1.01},{"p":"G","s":"tri","x":750,"y":1.01},{"p":"G","s":"tri","x":800,"y":1.01},{"p":"G","s":"tri","x":850,"y":1.01},{"p":"G","s":"tri","x":900,"y":1.01},{"p":"G","s":"tri","x":950,"y":1.01}
]
},
"columns": 4,
"spacing": {"row": 42, "column": 0},
"bounds": "flush",
"resolve": {"scale": {"x": "independent", "y": "independent"}},
"concat": [
{"width": 57, "height": 1, "data": {"values": [{"a": 1}]}, "mark": {"type": "text", "text": "", "align": "left", "baseline": "top", "fontSize": 1}},
{"width": 196, "height": 120,
 "resolve": {"scale": {"x": "independent", "y": "independent"}},
 "layer": [
  {"encoding": {"x": {"field": "x", "type": "quantitative", "scale": {"domain": [174.6, 1662.9], "nice": false, "zero": false}, "axis": null},
                "y": {"field": "y", "type": "quantitative", "scale": {"domain": [-0.941, 6.118], "nice": false, "zero": false}, "axis": null}},
   "layer": [
    {"data": {"name": "tr"}, "transform": [{"filter": "datum.p==1"}], "mark": {"type": "line", "interpolate": "monotone", "strokeWidth": 0.8}, "encoding": {"detail": {"field": "k", "type": "nominal"}, "color": {"condition": {"test": "datum.k==0", "value": "#111111"}, "value": "#858585"}}},
    {"data": {"name": "sb"}, "transform": [{"filter": "datum.p=='A1'"}], "mark": {"type": "rule", "color": "#000", "strokeWidth": 1}, "encoding": {"x2": {"field": "x2"}, "y2": {"field": "y2"}}},
    {"data": {"name": "sy"}, "transform": [{"filter": "datum.p=='A1'"}], "mark": {"type": "point", "filled": true, "size": 36, "strokeWidth": 1, "opacity": 1},
     "encoding": {"shape": {"field": "s", "type": "nominal", "scale": {"domain": ["sq","osq","oc","tri","c"], "range": ["square","square","circle","triangle-up","circle"]}, "legend": null},
                  "fill": {"field": "s", "type": "nominal", "scale": {"domain": ["sq","osq","oc","tri","c"], "range": ["#000000","#ffffff","#ffffff","#ffffff","#000000"]}, "legend": null},
                  "stroke": {"field": "s", "type": "nominal", "scale": {"domain": ["sq","osq","oc","tri","c"], "range": ["#000000","#333333","#333333","#333333","#000000"]}, "legend": null}}},
    {"data": {"name": "tx"}, "transform": [{"filter": "datum.p=='A1' && datum.r=='L'"}], "mark": {"type": "text", "align": "left", "baseline": "middle", "fontSize": 10.5}, "encoding": {"text": {"field": "s"}}},
    {"data": {"name": "tx"}, "transform": [{"filter": "datum.p=='A1' && datum.r=='H'"}], "mark": {"type": "text", "align": "center", "baseline": "middle", "fontSize": 10}, "encoding": {"text": {"field": "s"}}},
    {"data": {"name": "tx"}, "transform": [{"filter": "datum.p=='A1' && datum.r=='V'"}], "mark": {"type": "text", "align": "center", "baseline": "middle", "fontSize": 10, "angle": 270}, "encoding": {"text": {"field": "s"}}},
    {"data": {"name": "tx"}, "transform": [{"filter": "datum.p=='A1' && datum.r=='P'"}], "mark": {"type": "text", "align": "center", "baseline": "middle", "fontSize": 16, "fontWeight": "bold"}, "encoding": {"text": {"field": "s"}}}
   ]},
  {"encoding": {"x": {"field": "x", "type": "quantitative", "scale": {"domain": [-769.8, 724.1], "nice": false, "zero": false}, "axis": null},
                "y": {"field": "y", "type": "quantitative", "scale": {"domain": [-3.665, 21.18], "nice": false, "zero": false}, "axis": null}},
   "layer": [
    {"data": {"name": "tr"}, "transform": [{"filter": "datum.p==2"}], "mark": {"type": "line", "interpolate": "monotone", "strokeWidth": 0.8}, "encoding": {"detail": {"field": "k", "type": "nominal"}, "color": {"condition": {"test": "datum.k==0", "value": "#111111"}, "value": "#858585"}}},
    {"data": {"name": "sb"}, "transform": [{"filter": "datum.p=='A2'"}], "mark": {"type": "rule", "color": "#000", "strokeWidth": 1}, "encoding": {"x2": {"field": "x2"}, "y2": {"field": "y2"}}},
    {"data": {"name": "sy"}, "transform": [{"filter": "datum.p=='A2'"}], "mark": {"type": "point", "filled": true, "size": 36, "strokeWidth": 1, "opacity": 1},
     "encoding": {"shape": {"field": "s", "type": "nominal", "scale": {"domain": ["sq","osq","oc","tri","c"], "range": ["square","square","circle","triangle-up","circle"]}, "legend": null},
                  "fill": {"field": "s", "type": "nominal", "scale": {"domain": ["sq","osq","oc","tri","c"], "range": ["#000000","#ffffff","#ffffff","#ffffff","#000000"]}, "legend": null},
                  "stroke": {"field": "s", "type": "nominal", "scale": {"domain": ["sq","osq","oc","tri","c"], "range": ["#000000","#333333","#333333","#333333","#000000"]}, "legend": null}}},
    {"data": {"name": "tx"}, "transform": [{"filter": "datum.p=='A2' && datum.r=='L'"}], "mark": {"type": "text", "align": "left", "baseline": "middle", "fontSize": 10.5}, "encoding": {"text": {"field": "s"}}},
    {"data": {"name": "tx"}, "transform": [{"filter": "datum.p=='A2' && datum.r=='H'"}], "mark": {"type": "text", "align": "center", "baseline": "middle", "fontSize": 10}, "encoding": {"text": {"field": "s"}}},
    {"data": {"name": "tx"}, "transform": [{"filter": "datum.p=='A2' && datum.r=='V'"}], "mark": {"type": "text", "align": "center", "baseline": "middle", "fontSize": 10, "angle": 270}, "encoding": {"text": {"field": "s"}}}
   ]},
  {"encoding": {"x": {"field": "x", "type": "quantitative", "scale": {"domain": [-1581.2, -203.8], "nice": false, "zero": false}, "axis": null},
                "y": {"field": "y", "type": "quantitative", "scale": {"domain": [-1.565, 9.681], "nice": false, "zero": false}, "axis": null}},
   "layer": [
    {"data": {"name": "tr"}, "transform": [{"filter": "datum.p==3"}], "mark": {"type": "line", "interpolate": "monotone", "strokeWidth": 0.8}, "encoding": {"detail": {"field": "k", "type": "nominal"}, "color": {"condition": {"test": "datum.k==0", "value": "#111111"}, "value": "#858585"}}},
    {"data": {"name": "sb"}, "transform": [{"filter": "datum.p=='A3'"}], "mark": {"type": "rule", "color": "#000", "strokeWidth": 1}, "encoding": {"x2": {"field": "x2"}, "y2": {"field": "y2"}}},
    {"data": {"name": "sy"}, "transform": [{"filter": "datum.p=='A3'"}], "mark": {"type": "point", "filled": true, "size": 36, "strokeWidth": 1, "opacity": 1},
     "encoding": {"shape": {"field": "s", "type": "nominal", "scale": {"domain": ["sq","osq","oc","tri","c"], "range": ["square","square","circle","triangle-up","circle"]}, "legend": null},
                  "fill": {"field": "s", "type": "nominal", "scale": {"domain": ["sq","osq","oc","tri","c"], "range": ["#000000","#ffffff","#ffffff","#ffffff","#000000"]}, "legend": null},
                  "stroke": {"field": "s", "type": "nominal", "scale": {"domain": ["sq","osq","oc","tri","c"], "range": ["#000000","#333333","#333333","#333333","#000000"]}, "legend": null}}},
    {"data": {"name": "tx"}, "transform": [{"filter": "datum.p=='A3' && datum.r=='L'"}], "mark": {"type": "text", "align": "left", "baseline": "middle", "fontSize": 10.5}, "encoding": {"text": {"field": "s"}}},
    {"data": {"name": "tx"}, "transform": [{"filter": "datum.p=='A3' && datum.r=='H'"}], "mark": {"type": "text", "align": "center", "baseline": "middle", "fontSize": 10}, "encoding": {"text": {"field": "s"}}},
    {"data": {"name": "tx"}, "transform": [{"filter": "datum.p=='A3' && datum.r=='V'"}], "mark": {"type": "text", "align": "center", "baseline": "middle", "fontSize": 10, "angle": 270}, "encoding": {"text": {"field": "s"}}}
   ]},
  {"encoding": {"x": {"field": "x", "type": "quantitative", "scale": {"domain": [-2527.1, -1111.9], "nice": false, "zero": false}, "axis": null},
                "y": {"field": "y", "type": "quantitative", "scale": {"domain": [-5.01, 30.99], "nice": false, "zero": false}, "axis": null}},
   "layer": [
    {"data": {"name": "tr"}, "transform": [{"filter": "datum.p==4"}], "mark": {"type": "line", "interpolate": "monotone", "strokeWidth": 0.8}, "encoding": {"detail": {"field": "k", "type": "nominal"}, "color": {"condition": {"test": "datum.k==0", "value": "#111111"}, "value": "#858585"}}},
    {"data": {"name": "sb"}, "transform": [{"filter": "datum.p=='A4'"}], "mark": {"type": "rule", "color": "#000", "strokeWidth": 1}, "encoding": {"x2": {"field": "x2"}, "y2": {"field": "y2"}}},
    {"data": {"name": "sy"}, "transform": [{"filter": "datum.p=='A4'"}], "mark": {"type": "point", "filled": true, "size": 36, "strokeWidth": 1, "opacity": 1},
     "encoding": {"shape": {"field": "s", "type": "nominal", "scale": {"domain": ["sq","osq","oc","tri","c"], "range": ["square","square","circle","triangle-up","circle"]}, "legend": null},
                  "fill": {"field": "s", "type": "nominal", "scale": {"domain": ["sq","osq","oc","tri","c"], "range": ["#000000","#ffffff","#ffffff","#ffffff","#000000"]}, "legend": null},
                  "stroke": {"field": "s", "type": "nominal", "scale": {"domain": ["sq","osq","oc","tri","c"], "range": ["#000000","#333333","#333333","#333333","#000000"]}, "legend": null}}},
    {"data": {"name": "tx"}, "transform": [{"filter": "datum.p=='A4' && datum.r=='L'"}], "mark": {"type": "text", "align": "left", "baseline": "middle", "fontSize": 10.5}, "encoding": {"text": {"field": "s"}}},
    {"data": {"name": "tx"}, "transform": [{"filter": "datum.p=='A4' && datum.r=='H'"}], "mark": {"type": "text", "align": "center", "baseline": "middle", "fontSize": 10}, "encoding": {"text": {"field": "s"}}},
    {"data": {"name": "tx"}, "transform": [{"filter": "datum.p=='A4' && datum.r=='V'"}], "mark": {"type": "text", "align": "center", "baseline": "middle", "fontSize": 10, "angle": 270}, "encoding": {"text": {"field": "s"}}}
   ]}
 ]},
{"width": 56, "height": 1, "data": {"values": [{"a": 1}]}, "mark": {"type": "text", "text": "", "align": "left", "baseline": "top", "fontSize": 1}},
{"width": 1, "height": 1, "data": {"values": [{"a": 1}]}, "mark": {"type": "text", "text": "", "align": "left", "baseline": "top", "fontSize": 1}},
{"width": 57, "height": 1, "data": {"values": [{"a": 1}]}, "mark": {"type": "text", "text": "", "align": "left", "baseline": "top", "fontSize": 1}},
{"width": 196, "height": 123,
 "resolve": {"scale": {"x": "independent", "y": "independent"}},
 "layer": [
  {"encoding": {"x": {"field": "x", "type": "quantitative", "scale": {"domain": [-0.77, 501.8], "nice": false, "zero": false}, "axis": null},
                "y": {"field": "y", "type": "quantitative", "scale": {"domain": [0.0528, 0.942], "nice": false, "zero": false}, "axis": null}},
   "layer": [
    {"data": {"name": "bc"}, "transform": [{"filter": "datum.p=='B' && datum.s=='base'"}], "mark": {"type": "line", "strokeWidth": 0.8, "color": "#9a9a9a", "strokeDash": [2, 2]}, "encoding": {}},
    {"data": {"name": "bc"}, "transform": [{"filter": "datum.p=='B' && datum.s!='base'"}], "mark": {"type": "line", "interpolate": "monotone", "strokeWidth": 0.9, "color": "#333333"}, "encoding": {"detail": {"field": "s", "type": "nominal"}}},
    {"data": {"name": "sb"}, "transform": [{"filter": "datum.p=='B'"}], "mark": {"type": "rule", "color": "#000", "strokeWidth": 1}, "encoding": {"x2": {"field": "x2"}, "y2": {"field": "y2"}}},
    {"data": {"name": "ar"}, "transform": [{"filter": "datum.p=='B'"}], "mark": {"type": "rule", "color": "#000", "strokeWidth": 0.9}, "encoding": {"x2": {"field": "x2"}, "y2": {"field": "y2"}}},
    {"data": {"name": "ah"}, "transform": [{"filter": "datum.p=='B' && datum.d=='dl'"}], "mark": {"type": "point", "shape": "triangle-up", "filled": true, "size": 16, "color": "#000", "opacity": 1, "angle": 212}, "encoding": {}},
    {"data": {"name": "ah"}, "transform": [{"filter": "datum.p=='B' && datum.d=='ur'"}], "mark": {"type": "point", "shape": "triangle-up", "filled": true, "size": 16, "color": "#000", "opacity": 1, "angle": 28}, "encoding": {}},
    {"data": {"name": "sy"}, "transform": [{"filter": "datum.p=='B'"}], "mark": {"type": "point", "filled": true, "size": 50, "strokeWidth": 1, "opacity": 1},
     "encoding": {"shape": {"field": "s", "type": "nominal", "scale": {"domain": ["sq","osq","oc","tri","c"], "range": ["square","square","circle","triangle-up","circle"]}, "legend": null},
                  "fill": {"field": "s", "type": "nominal", "scale": {"domain": ["sq","osq","oc","tri","c"], "range": ["#000000","#ffffff","#ffffff","#ffffff","#000000"]}, "legend": null},
                  "stroke": {"field": "s", "type": "nominal", "scale": {"domain": ["sq","osq","oc","tri","c"], "range": ["#000000","#333333","#333333","#333333","#000000"]}, "legend": null}}},
    {"data": {"name": "tx"}, "transform": [{"filter": "datum.p=='B' && datum.r=='T'"}], "mark": {"type": "text", "align": "center", "baseline": "middle", "fontSize": 16.5}, "encoding": {"text": {"field": "s"}}},
    {"data": {"name": "tx"}, "transform": [{"filter": "datum.p=='B' && datum.r=='H'"}], "mark": {"type": "text", "align": "center", "baseline": "middle", "fontSize": 10}, "encoding": {"text": {"field": "s"}}},
    {"data": {"name": "tx"}, "transform": [{"filter": "datum.p=='B' && datum.r=='P'"}], "mark": {"type": "text", "align": "center", "baseline": "middle", "fontSize": 16, "fontWeight": "bold"}, "encoding": {"text": {"field": "s"}}}
   ]},
  {"encoding": {"x": {"field": "x", "type": "quantitative", "scale": {"domain": [-1035.1, -207.0], "nice": false, "zero": false}, "axis": null},
                "y": {"field": "y", "type": "quantitative", "scale": {"domain": [0.0528, 0.942], "nice": false, "zero": false}, "axis": null}},
   "layer": [
    {"data": {"name": "bc"}, "transform": [{"filter": "datum.p=='C' && (datum.s=='oc' || datum.s=='tri')"}], "mark": {"type": "line", "interpolate": "monotone", "strokeWidth": 0.9, "color": "#444444"}, "encoding": {"detail": {"field": "s", "type": "nominal"}}},
    {"data": {"name": "bc"}, "transform": [{"filter": "datum.p=='C' && datum.s=='osq'"}], "mark": {"type": "line", "interpolate": "monotone", "strokeWidth": 1.5, "color": "#222222"}, "encoding": {}},
    {"data": {"name": "bc"}, "transform": [{"filter": "datum.p=='C' && datum.s=='sq'"}], "mark": {"type": "line", "interpolate": "monotone", "strokeWidth": 2.2, "color": "#111111"}, "encoding": {}},
    {"data": {"name": "sb"}, "transform": [{"filter": "datum.p=='C'"}], "mark": {"type": "rule", "color": "#000", "strokeWidth": 1}, "encoding": {"x2": {"field": "x2"}, "y2": {"field": "y2"}}},
    {"data": {"name": "ar"}, "transform": [{"filter": "datum.p=='C'"}], "mark": {"type": "rule", "color": "#000", "strokeWidth": 0.9}, "encoding": {"x2": {"field": "x2"}, "y2": {"field": "y2"}}},
    {"data": {"name": "ah"}, "transform": [{"filter": "datum.p=='C' && datum.d=='dl'"}], "mark": {"type": "point", "shape": "triangle-up", "filled": true, "size": 16, "color": "#000", "opacity": 1, "angle": 212}, "encoding": {}},
    {"data": {"name": "ah"}, "transform": [{"filter": "datum.p=='C' && datum.d=='ur'"}], "mark": {"type": "point", "shape": "triangle-up", "filled": true, "size": 16, "color": "#000", "opacity": 1, "angle": 34}, "encoding": {}},
    {"data": {"name": "sy"}, "transform": [{"filter": "datum.p=='C'"}], "mark": {"type": "point", "filled": true, "size": 50, "strokeWidth": 1, "opacity": 1},
     "encoding": {"shape": {"field": "s", "type": "nominal", "scale": {"domain": ["sq","osq","oc","tri","c"], "range": ["square","square","circle","triangle-up","circle"]}, "legend": null},
                  "fill": {"field": "s", "type": "nominal", "scale": {"domain": ["sq","osq","oc","tri","c"], "range": ["#000000","#ffffff","#ffffff","#ffffff","#000000"]}, "legend": null},
                  "stroke": {"field": "s", "type": "nominal", "scale": {"domain": ["sq","osq","oc","tri","c"], "range": ["#000000","#333333","#333333","#333333","#000000"]}, "legend": null}}},
    {"data": {"name": "tx"}, "transform": [{"filter": "datum.p=='C' && datum.r=='T'"}], "mark": {"type": "text", "align": "center", "baseline": "middle", "fontSize": 16.5}, "encoding": {"text": {"field": "s"}}},
    {"data": {"name": "tx"}, "transform": [{"filter": "datum.p=='C' && datum.r=='H'"}], "mark": {"type": "text", "align": "center", "baseline": "middle", "fontSize": 10}, "encoding": {"text": {"field": "s"}}},
    {"data": {"name": "tx"}, "transform": [{"filter": "datum.p=='C' && datum.r=='P'"}], "mark": {"type": "text", "align": "center", "baseline": "middle", "fontSize": 16, "fontWeight": "bold"}, "encoding": {"text": {"field": "s"}}}
   ]}
 ]},
{"width": 56, "height": 1, "data": {"values": [{"a": 1}]}, "mark": {"type": "text", "text": "", "align": "left", "baseline": "top", "fontSize": 1}},
{"width": 1, "height": 1, "data": {"values": [{"a": 1}]}, "mark": {"type": "text", "text": "", "align": "left", "baseline": "top", "fontSize": 1}},
{"width": 57, "height": 1, "data": {"values": [{"a": 1}]}, "mark": {"type": "text", "text": "", "align": "left", "baseline": "top", "fontSize": 1}},
{"width": 186, "height": 148,
 "resolve": {"axis": {"x": "independent", "y": "independent"}},
 "encoding": {"x": {"field": "x", "type": "quantitative", "scale": {"domain": [-70, 60], "nice": false, "zero": false}, "axis": {"orient": "bottom", "values": [-60,-40,-20,0,20,40,60], "title": null, "labelExpr": "replace(datum.label, '−', '-')"}},
              "y": {"field": "y", "type": "quantitative", "scale": {"type": "log", "domain": [4.857, 349.4], "nice": false}, "axis": {"orient": "left", "values": [10, 100], "format": "d", "title": "t", "titleFontSize": 14, "titleX": -32, "titleY": 98, "titleBaseline": "middle", "titleAlign": "center"}}},
 "layer": [
  {"data": {"name": "eb"}, "transform": [{"filter": "datum.p=='D'"}], "mark": {"type": "rule", "color": "#444444", "strokeWidth": 0.8},
   "encoding": {"x": {"field": "x", "type": "quantitative", "scale": {"domain": [-70, 60], "nice": false, "zero": false}, "axis": {"orient": "bottom", "values": [-70,-50,-30,-10,10,30,50], "labels": false, "domain": false, "tickSize": 2, "title": null}},
                "y": {"field": "y", "type": "quantitative", "scale": {"type": "log", "domain": [4.857, 349.4], "nice": false}, "axis": {"orient": "left", "values": [5,6,7,8,9,20,30,40,50,60,70,80,90,200,300], "labels": false, "domain": false, "tickSize": 2, "title": null}},
                "y2": {"field": "y2"}}},
  {"data": {"name": "pts"}, "transform": [{"filter": "datum.p=='D'"}], "mark": {"type": "point", "filled": true, "size": 42, "strokeWidth": 1, "opacity": 1},
   "encoding": {"shape": {"field": "s", "type": "nominal", "scale": {"domain": ["sq","osq","oc","tri","c"], "range": ["square","square","circle","triangle-up","circle"]}, "legend": null},
                "fill": {"field": "s", "type": "nominal", "scale": {"domain": ["sq","osq","oc","tri","c"], "range": ["#000000","#ffffff","#ffffff","#ffffff","#000000"]}, "legend": null},
                "stroke": {"field": "s", "type": "nominal", "scale": {"domain": ["sq","osq","oc","tri","c"], "range": ["#000000","#444444","#444444","#444444","#000000"]}, "legend": null}}},
  {"data": {"name": "tx"}, "transform": [{"filter": "datum.p=='D' && datum.r=='P'"}], "mark": {"type": "text", "align": "center", "baseline": "middle", "fontSize": 16, "fontWeight": "bold"}, "encoding": {"text": {"field": "s"}}}
 ]},
{"width": 56, "height": 1, "data": {"values": [{"a": 1}]}, "mark": {"type": "text", "text": "", "align": "left", "baseline": "top", "fontSize": 1}},
{"width": 186, "height": 148,
 "resolve": {"axis": {"x": "independent"}},
 "encoding": {"x": {"field": "x", "type": "quantitative", "scale": {"domain": [-90, 80], "nice": false, "zero": false, "range": [1, 186]}, "axis": {"orient": "bottom", "values": [-80,-60,-40,-20,0,20,40,60,80], "title": "V (mV)", "titleY": 19, "titleBaseline": "middle", "labelExpr": "replace(datum.label, '−', '-')"}},
              "y": {"field": "y", "type": "quantitative", "scale": {"domain": [0, 1.1], "nice": false, "zero": false}, "axis": {"values": [0, 0.2, 0.4, 0.6, 0.8, 1.0], "format": ".1f", "offset": -1, "title": "G/Gₘₐₓ", "titleX": -37, "titleY": 74, "titleBaseline": "middle", "titleAlign": "center"}}},
 "layer": [
  {"data": {"name": "fit"}, "transform": [{"filter": "datum.p=='E'"}], "mark": {"type": "line", "interpolate": "monotone", "strokeWidth": 0.8, "color": "#555555"}, "encoding": {"detail": {"field": "s", "type": "nominal"}}},
  {"data": {"name": "eb"}, "transform": [{"filter": "datum.p=='E'"}], "mark": {"type": "rule", "color": "#444444", "strokeWidth": 0.8},
   "encoding": {"x": {"field": "x", "type": "quantitative", "scale": {"domain": [-90, 80], "nice": false, "zero": false, "range": [1, 186]}, "axis": {"orient": "bottom", "values": [-90,-70,-50,-30,-10,10,30,50,70], "labels": false, "domain": false, "tickSize": 2, "title": null}}, "y2": {"field": "y2"}}},
  {"data": {"name": "pts"}, "transform": [{"filter": "datum.p=='E'"}], "mark": {"type": "point", "filled": true, "size": 50, "strokeWidth": 1, "opacity": 1},
   "encoding": {"shape": {"field": "s", "type": "nominal", "scale": {"domain": ["sq","osq","oc","tri","c"], "range": ["square","square","circle","triangle-up","circle"]}, "legend": null},
                "fill": {"field": "s", "type": "nominal", "scale": {"domain": ["sq","osq","oc","tri","c"], "range": ["#000000","#ffffff","#ffffff","#ffffff","#000000"]}, "legend": null},
                "stroke": {"field": "s", "type": "nominal", "scale": {"domain": ["sq","osq","oc","tri","c"], "range": ["#000000","#444444","#444444","#444444","#000000"]}, "legend": null}}},
  {"data": {"name": "sy"}, "transform": [{"filter": "datum.p=='E'"}], "mark": {"type": "point", "filled": true, "size": 70, "color": "#000", "shape": "circle", "opacity": 1}, "encoding": {}},
  {"data": {"name": "tx"}, "transform": [{"filter": "datum.p=='E' && datum.r=='K'"}], "mark": {"type": "text", "align": "left", "baseline": "middle", "fontSize": 11}, "encoding": {"text": {"field": "s"}}},
  {"data": {"name": "tx"}, "transform": [{"filter": "datum.p=='E' && datum.r=='M'"}], "mark": {"type": "text", "align": "center", "baseline": "middle", "fontSize": 14}, "encoding": {"text": {"field": "s"}}},
  {"data": {"name": "tx"}, "transform": [{"filter": "datum.p=='E' && datum.r=='P'"}], "mark": {"type": "text", "align": "center", "baseline": "middle", "fontSize": 16, "fontWeight": "bold"}, "encoding": {"text": {"field": "s"}}}
 ]},
{"width": 57, "height": 1, "data": {"values": [{"a": 1}]}, "mark": {"type": "text", "text": "", "align": "left", "baseline": "top", "fontSize": 1}},
{"width": 196, "height": 152,
 "resolve": {"axis": {"x": "independent"}},
 "encoding": {"x": {"field": "x", "type": "quantitative", "scale": {"domain": [-110, -20], "nice": false, "zero": false, "range": [4, 196]}, "axis": {"orient": "bottom", "values": [-110,-100,-90,-80,-70,-60,-50,-40,-30,-20], "title": "V (mV)", "titleY": 19, "titleBaseline": "middle", "labelExpr": "replace(datum.label, '−', '-')"}},
              "y": {"field": "y", "type": "quantitative", "scale": {"domain": [0, 1.1], "nice": false, "zero": false}, "axis": {"values": [0, 0.2, 0.4, 0.6, 0.8, 1.0], "format": ".1f", "offset": -4, "labelOffset": -2, "title": "I/Iₘₐₓ", "titleX": -24, "titleY": 85, "titleBaseline": "middle", "titleAlign": "center"}}},
 "layer": [
  {"data": {"name": "pts"}, "transform": [{"filter": "datum.p=='F'"}], "mark": {"type": "line", "interpolate": "monotone", "strokeWidth": 0.8, "color": "#555555"}, "encoding": {"detail": {"field": "s", "type": "nominal"}}},
  {"data": {"name": "eb"}, "transform": [{"filter": "datum.p=='F'"}], "mark": {"type": "rule", "color": "#444444", "strokeWidth": 0.8},
   "encoding": {"x": {"field": "x", "type": "quantitative", "scale": {"domain": [-110, -20], "nice": false, "zero": false, "range": [4, 196]}, "axis": {"orient": "bottom", "values": [-105,-95,-85,-75,-65,-55,-45,-35,-25], "labels": false, "domain": false, "tickSize": 2, "title": null}}, "y2": {"field": "y2"}}},
  {"data": {"name": "pts"}, "transform": [{"filter": "datum.p=='F'"}], "mark": {"type": "point", "filled": true, "size": 50, "strokeWidth": 1, "opacity": 1},
   "encoding": {"shape": {"field": "s", "type": "nominal", "scale": {"domain": ["sq","osq","oc","tri","c"], "range": ["square","square","circle","triangle-up","circle"]}, "legend": null},
                "fill": {"field": "s", "type": "nominal", "scale": {"domain": ["sq","osq","oc","tri","c"], "range": ["#000000","#ffffff","#ffffff","#ffffff","#000000"]}, "legend": null},
                "stroke": {"field": "s", "type": "nominal", "scale": {"domain": ["sq","osq","oc","tri","c"], "range": ["#000000","#444444","#444444","#444444","#000000"]}, "legend": null}}},
  {"data": {"name": "tx"}, "transform": [{"filter": "datum.p=='F' && datum.r=='M'"}], "mark": {"type": "text", "align": "center", "baseline": "middle", "fontSize": 14}, "encoding": {"text": {"field": "s"}}},
  {"data": {"name": "tx"}, "transform": [{"filter": "datum.p=='F' && datum.r=='P'"}], "mark": {"type": "text", "align": "center", "baseline": "middle", "fontSize": 16, "fontWeight": "bold"}, "encoding": {"text": {"field": "s"}}}
 ]},
{"width": 56, "height": 1, "data": {"values": [{"a": 1}]}, "mark": {"type": "text", "text": "", "align": "left", "baseline": "top", "fontSize": 1}},
{"width": 190, "height": 152,
 "resolve": {"axis": {"x": "independent"}},
 "encoding": {"x": {"field": "x", "type": "quantitative", "scale": {"domain": [0, 1000], "nice": false, "zero": false}, "axis": {"orient": "bottom", "values": [0, 200, 400, 600, 800, 1000], "format": "d", "title": "Interval Duration (ms)", "titleY": 19, "titleBaseline": "middle"}},
              "y": {"field": "y", "type": "quantitative", "scale": {"domain": [0, 1.1], "nice": false, "zero": false}, "axis": {"values": [0, 0.2, 0.4, 0.6, 0.8, 1.0], "format": ".1f", "title": "Fractional Recovery", "titleX": -42, "titleY": 71, "titleBaseline": "middle", "titleAlign": "center"}}},
 "layer": [
  {"data": {"name": "pts"}, "transform": [{"filter": "datum.p=='G'"}], "mark": {"type": "line", "interpolate": "monotone", "strokeWidth": 0.8, "color": "#555555"}, "encoding": {"detail": {"field": "s", "type": "nominal"}}},
  {"data": {"name": "eb"}, "transform": [{"filter": "datum.p=='G'"}], "mark": {"type": "rule", "color": "#444444", "strokeWidth": 0.8},
   "encoding": {"x": {"field": "x", "type": "quantitative", "scale": {"domain": [0, 1000], "nice": false, "zero": false}, "axis": {"orient": "bottom", "values": [100, 300, 500, 700, 900], "labels": false, "domain": false, "tickSize": 2, "title": null}}, "y2": {"field": "y2"}}},
  {"data": {"name": "pts"}, "transform": [{"filter": "datum.p=='G'"}], "mark": {"type": "point", "filled": true, "size": 50, "strokeWidth": 1, "opacity": 1},
   "encoding": {"shape": {"field": "s", "type": "nominal", "scale": {"domain": ["sq","osq","oc","tri","c"], "range": ["square","square","circle","triangle-up","circle"]}, "legend": null},
                "fill": {"field": "s", "type": "nominal", "scale": {"domain": ["sq","osq","oc","tri","c"], "range": ["#000000","#ffffff","#ffffff","#ffffff","#000000"]}, "legend": null},
                "stroke": {"field": "s", "type": "nominal", "scale": {"domain": ["sq","osq","oc","tri","c"], "range": ["#000000","#444444","#444444","#444444","#000000"]}, "legend": null}}},
  {"data": {"name": "tx"}, "transform": [{"filter": "datum.p=='G' && datum.r=='P'"}], "mark": {"type": "text", "align": "center", "baseline": "middle", "fontSize": 16, "fontWeight": "bold"}, "encoding": {"text": {"field": "s"}}}
 ]}
]
}
